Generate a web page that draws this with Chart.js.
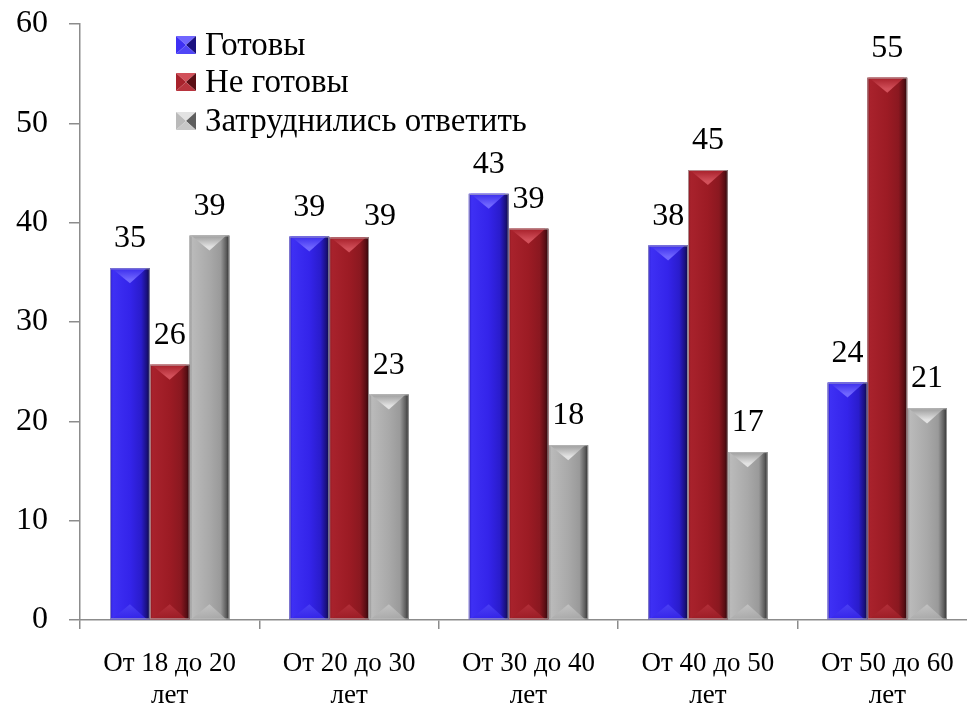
<!DOCTYPE html>
<html>
<head>
<meta charset="utf-8">
<script src="https://cdn.jsdelivr.net/npm/chart.js@4.4.1/dist/chart.umd.min.js"></script>
<style>
  html, body { margin: 0; padding: 0; background: #ffffff; overflow: hidden; }
  canvas { display: block; }
</style>
</head>
<body>
<canvas id="chart" width="977" height="706"></canvas>
<script>
// Age groups (two-line labels)
const categories = [
  ['От 18 до 20', 'лет'],
  ['От 20 до 30', 'лет'],
  ['От 30 до 40', 'лет'],
  ['От 40 до 50', 'лет'],
  ['От 50 до 60', 'лет']
];
const seriesNames = ['Готовы', 'Не готовы', 'Затруднились ответить'];

// Shares of respondents, %
const ready     = [35.4, 38.6, 42.9, 37.7, 23.9];
const notReady  = [25.7, 38.5, 39.4, 45.3, 54.6];
const undecided = [38.7, 22.7, 17.6, 16.9, 21.3];

const yTicks = [0, 10, 20, 30, 40, 50, 60];

// Bevelled "pillar" palettes per series
const palettes = [
  { base: '#3424ea', stops: ['#2818c8', '#3e30f4', '#3424ea', '#2a1ccc', '#1a1080', '#0c0840'],
    capTop: '#3a2cec', capHi: '#7066ff', footHi: '#5046f6' },
  { base: '#9c1b24', stops: ['#861720', '#a8222c', '#9c1b24', '#8a1820', '#5a0e14', '#2a0508'],
    capTop: '#a61f29', capHi: '#d2505a', footHi: '#b8343e' },
  { base: '#a9a9a9', stops: ['#8a8a8a', '#bababa', '#a9a9a9', '#9a9a9a', '#5e5e5e', '#2c2c2c'],
    capTop: '#9c9c9c', capHi: '#e2e2e2', footHi: '#c8c8c8' }
];
const stopPos = [0, 0.07, 0.5, 0.78, 0.92, 1];

const serif = "'Liberation Serif', 'Times New Roman', serif";

function barGradient(ctx, x0, x1, pal) {
  const g = ctx.createLinearGradient(x0, 0, x1, 0);
  pal.stops.forEach((c, i) => g.addColorStop(stopPos[i], c));
  return g;
}

// Paints the bevelled shading over every bar, using the bar geometry from Chart.js
const bevelPlugin = {
  id: 'bevel',
  afterDatasetDraw(chart, args) {
    const ctx = chart.ctx;
    const meta = args.meta;
    const pal = palettes[args.index];
    ctx.save();
    const area = chart.chartArea;
    ctx.beginPath();
    ctx.rect(area.left, area.top - 2, area.right - area.left, area.bottom - area.top + 2);
    ctx.clip();
    meta.data.forEach((bar) => {
      const p = bar.getProps(['x', 'y', 'base', 'width'], true);
      const x0 = p.x - p.width / 2, x1 = p.x + p.width / 2;
      const top = Math.min(p.y, p.base), bottom = Math.max(p.y, p.base);
      const w = x1 - x0, h = bottom - top;
      // body
      ctx.fillStyle = barGradient(ctx, x0, x1, pal);
      ctx.fillRect(x0, top, w, h);
      // top cap (downward chevron)
      const d = Math.min(15, w * 0.38, h / 2);
      const cg = ctx.createLinearGradient(0, top, 0, top + d);
      cg.addColorStop(0, pal.capTop);
      cg.addColorStop(0.75, pal.capHi);
      cg.addColorStop(1, pal.capHi);
      ctx.fillStyle = cg;
      ctx.beginPath();
      ctx.moveTo(x0 + w * 0.04, top);
      ctx.lineTo(x1 - w * 0.08, top);
      ctx.lineTo(x0 + w * 0.5, top + d);
      ctx.closePath();
      ctx.fill();
      // bottom foot (upward chevron)
      const fg = ctx.createLinearGradient(0, bottom, 0, bottom - d);
      fg.addColorStop(0, pal.stops[2]);
      fg.addColorStop(1, pal.footHi);
      ctx.fillStyle = fg;
      ctx.globalAlpha = 0.8;
      ctx.beginPath();
      ctx.moveTo(x0 + w * 0.04, bottom);
      ctx.lineTo(x1 - w * 0.08, bottom);
      ctx.lineTo(x0 + w * 0.5, bottom - d);
      ctx.closePath();
      ctx.fill();
      ctx.globalAlpha = 1;
      // thin light outline
      ctx.strokeStyle = 'rgba(190,190,190,0.7)';
      ctx.lineWidth = 1;
      ctx.strokeRect(x0 + 0.5, top + 0.5, w - 1, h - 1);
    });
    ctx.restore();
  }
};

// Value labels above the bars (rounded values)
const labelShift = { '1-1': { dx: 31, dy: 8 } };
const valueLabelPlugin = {
  id: 'valueLabels',
  afterDatasetsDraw(chart) {
    const ctx = chart.ctx;
    ctx.save();
    ctx.font = `32px ${serif}`;
    ctx.fillStyle = '#000000';
    ctx.textAlign = 'center';
    ctx.textBaseline = 'alphabetic';
    chart.data.datasets.forEach((ds, di) => {
      chart.getDatasetMeta(di).data.forEach((bar, i) => {
        const s = labelShift[di + '-' + i] || { dx: 0, dy: 0 };
        ctx.fillText(String(Math.round(ds.data[i])), bar.x + s.dx, bar.y - 21 + s.dy);
      });
    });
    ctx.restore();
  }
};

// Legend drawn inside the plot, top-left
const legendPlugin = {
  id: 'innerLegend',
  afterDraw(chart) {
    const ctx = chart.ctx;
    ctx.save();
    const x = 176, baselines = [55, 92, 131], sq = 20;
    ctx.font = `33px ${serif}`;
    ctx.textBaseline = 'alphabetic';
    ctx.textAlign = 'left';
    chart.data.datasets.forEach((ds, i) => {
      const pal = palettes[i];
      const by = baselines[i] - 1, ty = by - sq + 2;
      const cx = x + sq / 2, cy = ty + (sq - 2) / 2;
      const h = sq - 2;
      const tri = (pts, color) => {
        ctx.fillStyle = color;
        ctx.beginPath();
        ctx.moveTo(pts[0], pts[1]);
        for (let k = 2; k < pts.length; k += 2) ctx.lineTo(pts[k], pts[k + 1]);
        ctx.closePath();
        ctx.fill();
      };
      tri([x, ty, x + sq, ty, cx, cy], pal.capHi);
      tri([x, ty, cx, cy, x, ty + h], pal.stops[1]);
      tri([x + sq, ty, x + sq, ty + h, cx, cy], pal.stops[4]);
      tri([x, ty + h, cx, cy, x + sq, ty + h], pal.footHi);
      ctx.fillStyle = '#000000';
      ctx.fillText(ds.label, x + sq + 9, baselines[i]);
    });
    ctx.restore();
  }
};

const axisColor = '#8c8c8c';

new Chart(document.getElementById('chart'), {
  type: 'bar',
  data: {
    labels: categories,
    datasets: [
      { label: seriesNames[0], data: ready,     backgroundColor: palettes[0].base },
      { label: seriesNames[1], data: notReady,  backgroundColor: palettes[1].base },
      { label: seriesNames[2], data: undecided, backgroundColor: palettes[2].base }
    ]
  },
  options: {
    responsive: false,
    animation: false,
    layout: { padding: { top: 24, left: 0, right: 0, bottom: 0 } },
    datasets: { bar: { barPercentage: 1.0, categoryPercentage: 0.665, borderWidth: 0 } },
    plugins: {
      legend: { display: false },
      tooltip: { enabled: false }
    },
    scales: {
      x: {
        border: { color: axisColor, width: 1.5 },
        grid: { display: true, drawOnChartArea: false, drawTicks: true, tickLength: 9,
                color: axisColor, lineWidth: 1.5, offset: true },
        ticks: { color: '#000000', font: { family: serif, size: 27, lineHeight: 1.19 },
                 padding: 19, maxRotation: 0, autoSkip: false },
        afterFit(scale) { scale.height = 86; scale.paddingLeft = 0; scale.paddingRight = 0; }
      },
      y: {
        min: 0, max: 60,
        border: { color: axisColor, width: 1.5 },
        grid: { display: true, drawOnChartArea: false, drawTicks: true, tickLength: 11,
                color: axisColor, lineWidth: 1.5 },
        afterBuildTicks(scale) { scale.ticks = yTicks.map(v => ({ value: v })); },
        ticks: { color: '#000000', font: { family: serif, size: 32 }, padding: 21,
                 callback: (v) => String(v) },
        afterFit(scale) { scale.width = 80; scale.paddingTop = 0; scale.paddingBottom = 0; }
      }
    }
  },
  plugins: [bevelPlugin, valueLabelPlugin, legendPlugin]
});
</script>
</body>
</html>
